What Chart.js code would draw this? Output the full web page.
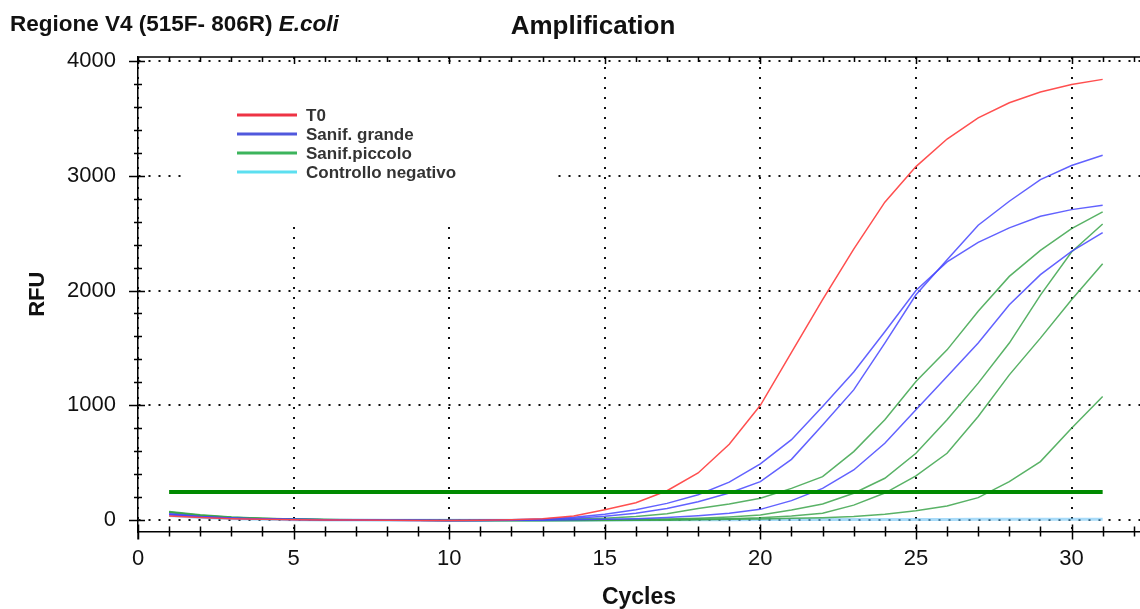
<!DOCTYPE html>
<html>
<head>
<meta charset="utf-8">
<script src="https://cdn.jsdelivr.net/npm/chart.js@4.4.1/dist/chart.umd.min.js"></script>
<style>
  html, body { margin: 0; padding: 0; background: #fff; }
</style>
</head>
<body>
<canvas id="ampChart" width="1140" height="609"></canvas>
<script>
// Amplification curves (RFU per cycle)

const cycles = [1, 2, 3, 4, 5, 6, 7, 8, 9, 10, 11, 12, 13, 14, 15, 16,
  17, 18, 19, 20, 21, 22, 23, 24, 25, 26, 27, 28, 29, 30, 31];

const t0 = [35, 22, 12, 6, 3, 1, 0, -2, -4, -5, -3, 3, 12, 35, 90, 150,
  255, 410, 660, 1000, 1460, 1920, 2360, 2770, 3080, 3320, 3505, 3636, 3730, 3795, 3840];

const grandeA = [55, 30, 18, 10, 6, 3, 1, -1, -3, -4, -3, 2, 10, 25, 50, 90,
  145, 220, 330, 490, 700, 990, 1290, 1640, 2000, 2250, 2420, 2546, 2647, 2705, 2743];
const grandeB = [50, 28, 16, 9, 5, 2, 0, -2, -4, -5, -4, 0, 5, 15, 32, 60,
  100, 160, 235, 334, 529, 829, 1134, 1542, 1963, 2269, 2569, 2778, 2967, 3089, 3179];
const grandeC = [45, 25, 14, 8, 4, 2, 0, -2, -3, -4, -4, -3, -1, 2, 6, 12,
  22, 38, 60, 93, 169, 276, 436, 669, 960, 1251, 1542, 1876, 2138, 2341, 2504];

const piccoloA = [75, 45, 26, 15, 9, 5, 2, 0, -2, -3, -3, -1, 3, 8, 16, 30,
  55, 100, 140, 189, 276, 378, 596, 873, 1207, 1483, 1820, 2123, 2350, 2539, 2685];
const piccoloB = [70, 42, 24, 14, 8, 4, 1, -1, -3, -4, -5, -5, -4, -2, 1, 4,
  9, 16, 27, 44, 87, 140, 233, 364, 582, 873, 1193, 1542, 1960, 2336, 2580];
const piccoloC = [68, 40, 22, 13, 7, 3, 1, -1, -3, -4, -5, -5, -5, -4, -2, 0,
  3, 7, 12, 20, 35, 60, 130, 235, 384, 582, 902, 1265, 1585, 1920, 2234];
const piccoloD = [65, 38, 21, 12, 6, 3, 0, -2, -3, -4, -5, -5, -5, -5, -4, -3,
  -1, 2, 6, 10, 15, 20, 30, 50, 81, 122, 195, 334, 509, 800, 1076];

const negativo = [40, 22, 12, 6, 3, 1, 0, -1, -2, -3, -3, -3, -2, -1, 0, 1,
  2, 3, 3, 4, 4, 4, 5, 5, 5, 5, 6, 6, 6, 6, 6];

const threshold = 245;

const xLabels = [0, 5, 10, 15, 20, 25, 30];
const yLabels = [0, 1000, 2000, 3000, 4000];

const legendItems = [
  { text: "T0", color: "#ee3344" },
  { text: "Sanif. grande", color: "#5058dd" },
  { text: "Sanif.piccolo", color: "#3cb45c" },
  { text: "Controllo negativo", color: "#5cdff0" },
];

// minor tick positions: every cycle, every 200 RFU
const xTickValues = [];
for (let v = 0; v <= 32; v += 1) xTickValues.push(v);
const yTickValues = [];
for (let v = 0; v <= 4000; v += 200) yTickValues.push(v);

const RED = "rgba(255, 70, 70, 0.95)";
const BLUE = "rgba(70, 70, 255, 0.85)";
const GREEN = "rgba(60, 165, 75, 0.85)";
const CYAN = "rgba(110, 195, 245, 0.6)";

const toPoints = (values) => values.map((v, i) => ({ x: cycles[i], y: v }));

function curve(values, color, width) {
  return {
    data: toPoints(values),
    borderColor: color,
    borderWidth: width,
    pointRadius: 0,
    tension: 0,
    fill: false,
  };
}

const FONT = "'Liberation Sans', Arial, sans-serif";
const tickFont = { family: FONT, size: 22 };
const gridDots = (major) => (ctx) =>
  ctx.tick && major.includes(ctx.tick.value) ? "#111" : "rgba(0,0,0,0)";

// frame, crossing tick marks, in-plot legend and header texts
const framePlugin = {
  id: "framePlugin",
  afterDraw(chart) {
    const { ctx, chartArea: a, scales: { x, y } } = chart;
    ctx.save();

    // legend box with white background over the grid
    ctx.fillStyle = "#fff";
    ctx.fillRect(182, 64, 372, 156);
    ctx.font = "bold 17px " + FONT;
    ctx.textBaseline = "middle";
    ctx.textAlign = "left";
    legendItems.forEach((item, i) => {
      const ly = 115 + i * 19;
      ctx.strokeStyle = item.color;
      ctx.lineWidth = 3;
      ctx.beginPath();
      ctx.moveTo(237, ly);
      ctx.lineTo(297, ly);
      ctx.stroke();
      ctx.fillStyle = "#333";
      ctx.fillText(item.text, 306, ly + 1);
    });

    ctx.strokeStyle = "#000";
    ctx.lineWidth = 1.5;
    ctx.beginPath();
    // top frame line
    ctx.moveTo(a.left, a.top);
    ctx.lineTo(a.right, a.top);
    // y axis runs a bit below the x axis
    ctx.moveTo(a.left, a.bottom);
    ctx.lineTo(a.left, a.bottom + 8);
    x.ticks.forEach((t) => {
      const px = Math.round(x.getPixelForValue(t.value)) + 0.5;
      const major = xLabels.includes(t.value);
      ctx.moveTo(px, a.bottom - (major ? 7 : 5));
      ctx.lineTo(px, a.bottom + (major ? 8 : 5));
      ctx.moveTo(px, a.top);
      ctx.lineTo(px, a.top + (major ? 7 : 5));
    });
    y.ticks.forEach((t) => {
      const py = Math.round(y.getPixelForValue(t.value)) + 0.5;
      const major = yLabels.includes(t.value);
      ctx.moveTo(a.left - (major ? 9 : 4), py);
      ctx.lineTo(a.left + (major ? 7 : 4), py);
    });
    ctx.stroke();

    // header texts
    ctx.fillStyle = "#111";
    ctx.textBaseline = "alphabetic";
    ctx.font = "bold 22.5px " + FONT;
    const lead = "Regione V4 (515F- 806R) ";
    ctx.fillText(lead, 10, 31);
    const w = ctx.measureText(lead).width;
    ctx.font = "italic bold 22.5px " + FONT;
    ctx.fillText("E.coli", 10 + w, 31);
    ctx.textAlign = "center";
    ctx.font = "bold 26px " + FONT;
    ctx.fillText("Amplification", 593, 34);

    ctx.restore();
  },
};

const ctx = document.getElementById("ampChart").getContext("2d");
new Chart(ctx, {
  type: "line",
  data: {
    datasets: [
      {
        data: [
          { x: cycles[0], y: threshold },
          { x: cycles[cycles.length - 1], y: threshold },
        ],
        borderColor: "#008a00",
        borderWidth: 4,
        pointRadius: 0,
        fill: false,
      },
      curve(t0, RED, 1.5),
      curve(grandeA, BLUE, 1.5),
      curve(grandeB, BLUE, 1.5),
      curve(grandeC, BLUE, 1.5),
      curve(piccoloA, GREEN, 1.5),
      curve(piccoloB, GREEN, 1.5),
      curve(piccoloC, GREEN, 1.5),
      curve(piccoloD, GREEN, 1.5),
      curve(negativo, CYAN, 3),
    ],
  },
  options: {
    responsive: false,
    animation: false,
    layout: { autoPadding: false, padding: { top: 57, left: 0, right: 0, bottom: 0 } },
    plugins: {
      legend: { display: false },
      tooltip: { enabled: false },
    },
    scales: {
      x: {
        type: "linear",
        min: 0,
        max: 32.2,
        bounds: "data",
        afterFit: (scale) => {
          scale.height = 77.5;
          scale.paddingLeft = 0;
          scale.paddingRight = 0;
        },
        afterBuildTicks: (scale) => { scale.ticks = xTickValues.map((v) => ({ value: v })); },
        ticks: {
          autoSkip: false,
          maxRotation: 0,
          padding: 14,
          color: "#111",
          font: tickFont,
          callback: (v) => (xLabels.includes(v) ? String(v) : ""),
        },
        grid: { color: gridDots(xLabels), lineWidth: 2, drawTicks: false },
        border: { color: "#000", width: 1.5, dash: [2, 8] },
        title: {
          display: true,
          text: "Cycles",
          color: "#111",
          font: { family: FONT, size: 23, weight: "bold" },
          padding: { top: 0, bottom: -2 },
        },
      },
      y: {
        min: -100,
        max: 4035,
        bounds: "data",
        afterFit: (scale) => { scale.width = 138; },
        afterBuildTicks: (scale) => { scale.ticks = yTickValues.map((v) => ({ value: v })); },
        ticks: {
          autoSkip: false,
          padding: 22,
          color: "#111",
          font: tickFont,
          callback: (v) => (yLabels.includes(v) ? String(v) : ""),
        },
        grid: { color: gridDots(yLabels), lineWidth: 2, drawTicks: false },
        border: { color: "#000", width: 1.5, dash: [2, 8] },
        title: {
          display: true,
          text: "RFU",
          color: "#111",
          font: { family: FONT, size: 22, weight: "bold" },
          padding: { top: 25, bottom: 0 },
        },
      },
    },
  },
  plugins: [framePlugin],
});
</script>
</body>
</html>
